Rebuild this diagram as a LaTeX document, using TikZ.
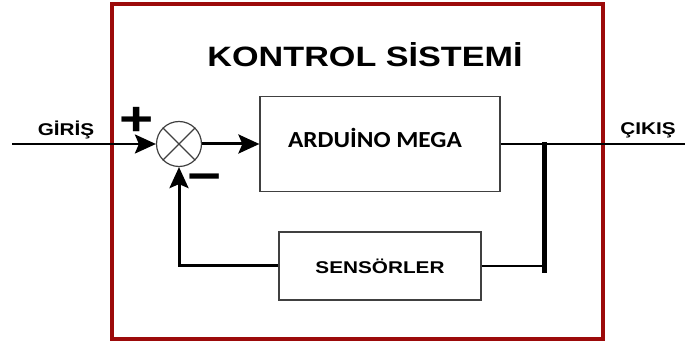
\documentclass[tikz,border=0pt]{standalone}
\usepackage{fontspec}
\setmainfont{Liberation Sans}
\newfontfamily\calibrifont{Carlito}
\usepackage{graphicx}
\usepackage{xcolor}
\usetikzlibrary{arrows.meta, positioning, calc}
\definecolor{darkred}{HTML}{9C0A0A}
\definecolor{boxgrey}{HTML}{404040}
\newcommand{\widetxt}[1]{\scalebox{1.22}[1]{#1}}
\tikzset{
  frame/.style={draw=darkred, line width=4.5pt},
  block/.style={rectangle, draw=boxgrey, line width=1.2pt, inner sep=0pt},
  sumnode/.style={circle, draw=boxgrey, line width=1.2pt, minimum size=45pt, inner sep=0pt},
  label/.style={font=\fontsize{17}{19}\selectfont\bfseries, inner sep=0pt, anchor=base},
  sign/.style={font=\fontsize{48}{50}\selectfont\bfseries, inner sep=0pt},
  arrow/.style={-{Stealth[length=21pt, width=19pt, inset=4pt]}, line width=3pt},
  wire/.style={line width=2.6pt},
  bar/.style={line width=5pt},
}
\begin{document}
\begin{tikzpicture}[x=1pt, y=-1pt]
\useasboundingbox (0,0) rectangle (685,347);
% outer frame and title
\draw[frame] (112,4) rectangle (603,339);
\node[label, font=\fontsize{28}{30}\selectfont\bfseries] (title) at (365,67) {\widetxt{KONTROL SİSTEMİ}};
% blocks
\node[sumnode] (sum) at (179,144) {};
\draw[line width=1.2pt, boxgrey] (sum.north west) -- (sum.south east) (sum.north east) -- (sum.south west);
\node[block, minimum width=240pt, minimum height=95pt] (ctrl) at (380,144) {};
\node[label, font=\fontsize{23}{25}\selectfont\bfseries\calibrifont] (ctrltxt) at (375,148) {\scalebox{1.1}[1]{ARDUİNO MEGA}};
\node[block, minimum width=202pt, minimum height=68pt] (sens) at (380,266) {};
\node[label] (senstxt) at (380,273) {\widetxt{SENSÖRLER}};
% signs and labels
\node[sign] (plus) at (137,121) {\widetxt{+}};
\node[sign] (minus) at (205,183) {\widetxt{−}};
\node[label] (inlbl) at (66,136) {\widetxt{GİRİŞ}};
\node[label] (outlbl) at (648,135) {\widetxt{ÇIKIŞ}};
% connectors
\coordinate (in) at (12,144);
\coordinate (out) at (685,144);
\coordinate (bartop) at (544,142);
\coordinate (barbot) at (544,273);
\draw[arrow, line width=2.6pt] (in) -- (sum.west);
\draw[arrow] (sum.east) -- (ctrl.west);
\draw[wire] (ctrl.east) -- (out);
\draw[bar] (bartop) -- (barbot);
\draw[wire] (sens.east) -- (sens.east -| bartop);
\draw[arrow] (sens.west) -| (sum.south);
\end{tikzpicture}
\end{document}
